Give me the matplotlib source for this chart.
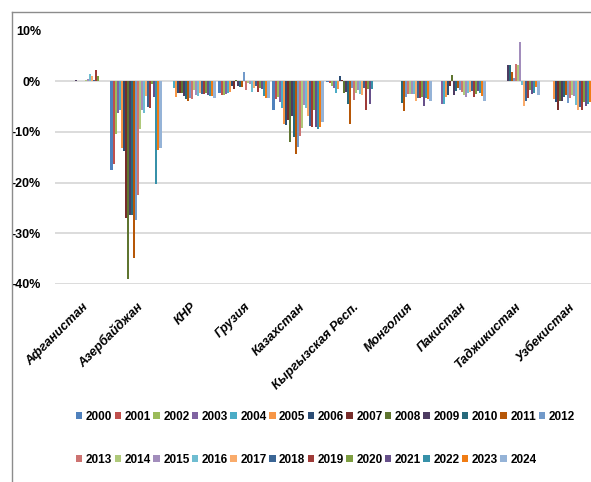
import numpy as np
import matplotlib
matplotlib.use("Agg")
import matplotlib.pyplot as plt
import matplotlib.transforms as mtransforms
from matplotlib.lines import Line2D

nan = np.nan

countries = ["Афганистан", "Азербайджан", "КНР", "Грузия", "Казахстан",
             "Кыргызская Респ.", "Монголия", "Пакистан", "Таджикистан", "Узбекистан"]
years = [str(y) for y in range(2000, 2025)]

# значения в % по странам, 2000..2024 (nan = нет данных)
afg = [nan] * 9 + [0.3, 0.1, 0.1, 0.1, 0.1, 0.15, 0.4, 1.4, 1.0, 0.3, 2.3, 1.0] + [nan] * 4
aze = [-17.6, -16.3, -10.4, -6.3, -5.6, -13.2, -13.7, -26.9, -39.0, -26.3, -26.3, -34.8, -27.3,
       -22.4, -9.5, -5.6, -6.3, -2.9, -5.0, -5.3, -0.5, -3.1, -20.3, -13.6, -13.2]
knr = [nan] * 4 + [-1.4, -3.2, -2.3, -2.3, -2.3, -3.0, -3.5, -3.9, -3.3, -3.5, -1.8, -2.8,
                   -3.0, -2.3, -2.6, -2.6, -2.3, -2.8, -3.0, -3.0, -3.3]
geo = [-2.4, -2.7, -2.7, -2.5, -2.3, -2.2, -0.9, -1.5, 0.3, -0.9, -1.1, -1.1, 1.8,
       -1.8, -0.3, -0.5, -2.2, -1.3, -1.0, -2.1, -1.3, -1.6, -3.0, -3.4, -3.3]
kaz = [-5.6, -3.6, -3.1, -4.1, -5.3, -8.4, -8.6, -7.7, -12.0, -6.8, -11.0, -14.3, -13.0,
       -10.9, -9.3, -4.7, -5.3, -6.9, -8.9, -9.0, -5.7, -9.0, -9.4, -9.0, -8.1]
kgz = [-0.2, -0.3, -0.9, -1.3, -2.3, -1.6, 1.1, 0.3, -2.3, -2.2, -4.4, -8.4, -1.3,
       -3.8, -2.3, -1.8, -2.6, -2.7, -1.3, -5.6, -1.6, -4.4, -1.5, nan, nan]
mng = [nan] * 10 + [-4.3, -5.8, -3.1, -2.5, -2.6, -2.6, -2.5, -3.9, -3.3, -3.4, -3.2,
                    -4.9, -3.4, -3.5, -4.0]
pak = [nan] * 3 + [-4.4, -4.4, -3.1, -2.8, -1.0, 1.3, -2.7, -2.0, -1.3, -1.8, -2.2, -2.8,
                   -3.1, -2.4, -2.2, -2.0, -3.1, -2.6, -2.0, -2.3, -3.0, -3.9]
tjk = [nan] * 9 + [3.2, 3.1, 1.8, 0.7, 3.4, 3.2, 7.8, -0.7, -4.9, -3.9, -3.4, -1.7, -2.5,
                   -2.4, -1.1, -2.8]
uzb = [nan] * 5 + [-3.5, -4.2, -5.7, -4.0, -3.9, -3.1, -2.8, -4.3, -3.4, -2.8, -3.0, -4.7,
                   -5.7, -5.1, -5.7, -4.1, -4.9, -4.5, -4.1, -4.4]

yticks = [10, 0, -10, -20, -30, -40]
ytick_labels = ["10%", "0%", "-10%", "-20%", "-30%", "-40%"]

colors = ["#4F81BD", "#C0504D", "#9BBB59", "#8064A2", "#4BACC6", "#F79646",
          "#2C4D75", "#772C2A", "#5F7530", "#4D3B62", "#276A7C", "#B65708",
          "#729ACA", "#CD7371", "#AFC97A", "#A28DBC", "#6FBDD1", "#F9AB6B",
          "#3A6595", "#9F3B38", "#7E9E41", "#67508A", "#3791A9", "#F07C14", "#95B3D7"]

plt.rcParams['font.family'] = ['Liberation Sans', 'DejaVu Sans']
plt.rcParams['font.weight'] = 'bold'

data = np.array([afg, aze, knr, geo, kaz, kgz, mng, pak, tjk, uzb])  # 10 x 25

fig = plt.figure(figsize=(5.91, 4.82), dpi=100)
W, H = 591, 482
ax = fig.add_axes([55 / W, 1 - 284 / H, 540 / W, (284 - 30.5) / H])

x = np.arange(len(countries))
n = len(years)
bw = 0.0378
bars = []
for i in range(n):
    b = ax.bar(x + (i - (n - 1) / 2) * bw, data[:, i], width=bw,
               color=colors[i], linewidth=0, zorder=3, label=years[i])
    bars.append(b)

ax.set_xlim(-0.5, 9.5)
ax.set_ylim(-40, 10)
ax.set_yticks(yticks)
ax.set_yticklabels(ytick_labels, fontsize=9, fontweight='bold')
ax.yaxis.grid(True, color="#D9D9D9", linewidth=1.3, zorder=0)
ax.set_axisbelow(True)
for s in ax.spines.values():
    s.set_visible(False)
ax.tick_params(axis='both', length=0)
ax.tick_params(axis='y', pad=10)

# подписи стран: повернутые, конец подписи чуть правее центра группы
ax.set_xticks(x)
ax.set_xticklabels([])
lbl_tr = ax.get_xaxis_transform() + mtransforms.ScaledTranslation(5 / 100, -21 / 100,
                                                                   fig.dpi_scale_trans)
for xi, name in zip(x, countries):
    ax.text(xi, 0, name, transform=lbl_tr, rotation=45, ha='right', va='center',
            rotation_mode='anchor', fontsize=9.2, fontweight='bold', style='italic')

# легенда: построчно, 13 + 12
order = []
for j in range(12):
    order += [j, 13 + j]
order.append(12)
handles = [bars[k] for k in order]
labels = [years[k] for k in order]
fig.legend(handles, labels, loc='upper left', bbox_to_anchor=(76 / W, 1 - 411 / H),
           ncol=13, frameon=False, fontsize=8.5, handlelength=0.55, handleheight=0.55,
           handletextpad=0.3, columnspacing=0.19, labelspacing=2.6, borderpad=0,
           borderaxespad=0)

# рамка диаграммы
fig.add_artist(Line2D([12 / W, 12 / W], [0, 1 - 12 / H], transform=fig.transFigure,
                      color="#8C8C8C", linewidth=1))
fig.add_artist(Line2D([12 / W, 1], [1 - 12 / H, 1 - 12 / H], transform=fig.transFigure,
                      color="#8C8C8C", linewidth=1))

fig.savefig("out.png", dpi=100)
